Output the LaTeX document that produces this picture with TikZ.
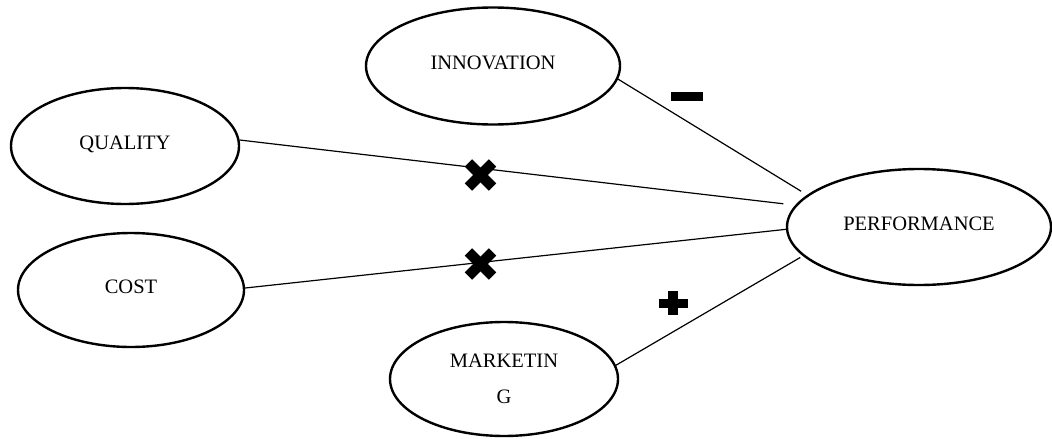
\documentclass[tikz,border=0pt]{standalone}
\usepackage{fontspec}
\setmainfont{Liberation Serif}
\usetikzlibrary{shapes.geometric}

\tikzset{
  construct/.style={ellipse, draw, line width=2.4pt, inner sep=0pt,
    font=\fontsize{20.5}{36}\selectfont},
  oneline/.style={text height=14pt, text depth=8pt},
  link/.style={line width=1.2pt},
  crossmark/.pic={
    \fill[rotate=45] (-17,-5.2) rectangle (17,5.2);
    \fill[rotate=-45] (-17,-5.2) rectangle (17,5.2);
  },
  plusmark/.pic={
    \fill (-14.5,-4.5) rectangle (14.5,4.5);
    \fill (-5,-12) rectangle (5,12);
  },
  minusmark/.pic={
    \fill (-16,-4.5) rectangle (16,4.5);
  }
}

\begin{document}
\begin{tikzpicture}[x=1pt, y=-1pt]
  \useasboundingbox (0,0) rectangle (1052,439);

  % constructs
  \node[construct, oneline, minimum width=254pt, minimum height=117pt] (inn) at (493,66) {INNOVATION};
  \node[construct, oneline, minimum width=228pt, minimum height=116pt] (qual) at (125,146) {QUALITY};
  \node[construct, oneline, minimum width=226pt, minimum height=114pt] (cost) at (131,290) {COST};
  \node[construct, oneline, minimum width=264pt, minimum height=116pt] (perf) at (919,227) {PERFORMANCE};
  \node[construct, align=center, minimum width=228pt, minimum height=114pt] (mkt) at (504,379) {MARKETIN\\G};

  % relations towards performance
  \draw[link, shorten >=7pt]  (inn.-6)  -- (perf.164);
  \draw[link, shorten >=12pt] (qual.3)  -- (perf.170);
  \draw[link]                 (cost.1)  -- (perf.181);
  \draw[link, shorten >=3pt]  (mkt.7)   -- (perf.194);

  % effect signs
  \pic at (687,96.5) {minusmark};
  \pic at (480.5,175) {crossmark};
  \pic at (480.5,264) {crossmark};
  \pic at (673,303) {plusmark};
\end{tikzpicture}
\end{document}
